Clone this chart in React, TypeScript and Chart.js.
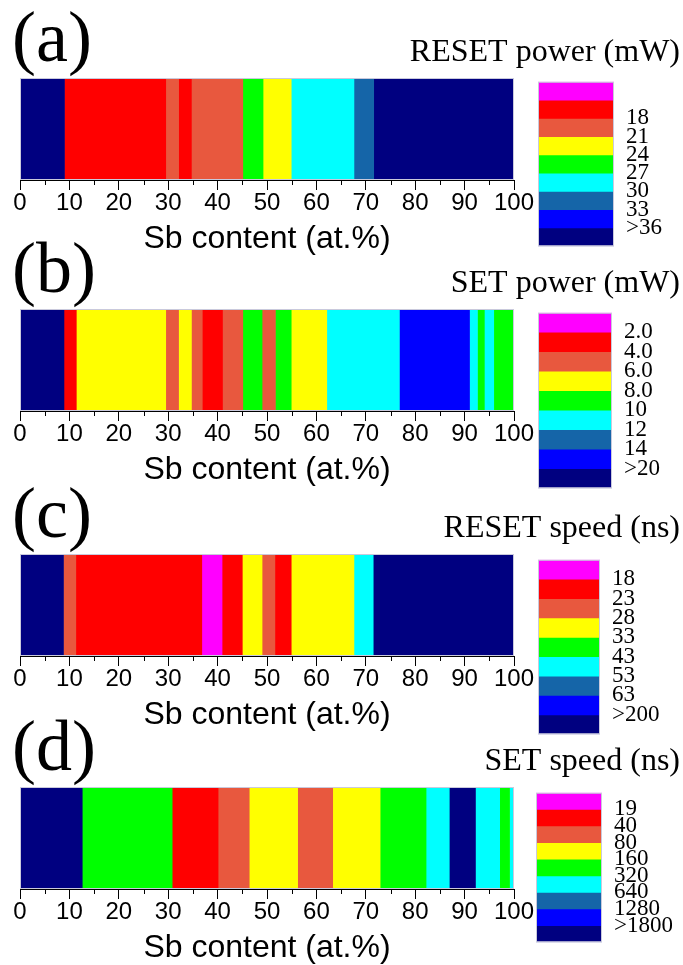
import React, { useEffect, useRef } from 'react';
import { Chart, registerables } from 'chart.js';
Chart.register(...registerables);

// colour scale: index 0 (top of colour bar) .. 8 (bottom)
const palette = ['#FF00FF', '#FF0000', '#E8583E', '#FFFF00', '#00FF00', '#00FFFF', '#1565A8', '#0000FF', '#000080'];

const xTickValues = [0, 10, 20, 30, 40, 50, 60, 70, 80, 90, 100];
const xMinorTickValues = [5, 15, 25, 35, 45, 55, 65, 75, 85, 95];
const xTitle = 'Sb content (at.%)';

// (a) RESET power
const resetPowerEdges = [0, 9.0, 29.5, 32.1, 34.7, 45.1, 49.2, 54.9, 67.6, 71.6, 100];
const resetPowerLevels = [8, 1, 2, 1, 2, 4, 3, 5, 6, 8];
const resetPowerLegend = ['18', '21', '24', '27', '30', '33', '>36'];

// (b) SET power
const setPowerEdges = [0, 8.9, 11.4, 29.5, 32.1, 34.7, 36.9, 41.0, 45.1, 49.0, 51.7, 54.9, 62.1, 76.8, 91.0, 92.6, 94.0, 95.9, 100];
const setPowerLevels = [8, 1, 3, 2, 3, 2, 1, 2, 4, 2, 4, 3, 5, 7, 5, 4, 5, 4];
const setPowerLegend = ['2.0', '4.0', '6.0', '8.0', '10', '12', '14', '>20'];

// (c) RESET speed
const resetSpeedEdges = [0, 8.8, 11.3, 36.8, 40.9, 45.0, 49.0, 51.6, 54.9, 67.6, 71.5, 100];
const resetSpeedLevels = [8, 2, 1, 0, 1, 3, 2, 1, 3, 5, 8];
const resetSpeedLegend = ['18', '23', '28', '33', '43', '53', '63', '>200'];

// (d) SET speed
const setSpeedEdges = [0, 12.6, 30.8, 40.1, 46.4, 56.2, 63.3, 72.9, 82.2, 86.9, 92.2, 97.1, 99.1, 100];
const setSpeedLevels = [8, 4, 1, 2, 3, 2, 3, 4, 5, 8, 5, 4, 5];
const setSpeedLegend = ['19', '40', '80', '160', '320', '640', '1280', '>1800'];

const SANS = '"Liberation Sans", Arial, sans-serif';
const SERIF = '"Liberation Serif", "Times New Roman", serif';

type PanelDef = {
  label: string;
  title: string;
  edges: number[];
  levels: number[];
  legend: string[];
  top: number;
  cb: { l: number; r: number; t: number; b: number };
};

const panels: PanelDef[] = [
  { label: '(a)', title: 'RESET power (mW)', edges: resetPowerEdges, levels: resetPowerLevels, legend: resetPowerLegend, top: 78, cb: { l: 538, r: 614, t: 76, b: 252 } },
  { label: '(b)', title: 'SET power (mW)', edges: setPowerEdges, levels: setPowerLevels, legend: setPowerLegend, top: 309, cb: { l: 538, r: 612, t: 307, b: 494 } },
  { label: '(c)', title: 'RESET speed (ns)', edges: resetSpeedEdges, levels: resetSpeedLevels, legend: resetSpeedLegend, top: 554, cb: { l: 538, r: 600, t: 554, b: 740 } },
  { label: '(d)', title: 'SET speed (ns)', edges: setSpeedEdges, levels: setSpeedLevels, legend: setSpeedLegend, top: 787, cb: { l: 536, r: 602, t: 787, b: 948 } },
];

const W = 683;
const PAD_TOP = 80;
const PLOT_H = 102;
const AXIS_H = 78;
const PLOT_L = 20;
const PLOT_R = 514;

const framePlugin = {
  id: 'frameBox',
  afterDatasetsDraw(chart: any) {
    const { ctx, chartArea: a } = chart;
    ctx.save();
    ctx.strokeStyle = '#c9c9dc';
    ctx.lineWidth = 1;
    ctx.strokeRect(a.left + 0.5, a.top + 0.5, a.right - a.left - 1, a.bottom - a.top - 1);
    ctx.restore();
  },
};

function Strip({ p }: { p: PanelDef }) {
  const ref = useRef<HTMLCanvasElement>(null);
  useEffect(() => {
    const canvas = ref.current!;
    const minorTicks = {
      id: 'minorTicks',
      afterDraw(chart: any) {
        const s = chart.scales.x;
        const ctx = chart.ctx;
        ctx.save();
        ctx.strokeStyle = '#000';
        ctx.lineWidth = 1;
        ctx.beginPath();
        xMinorTickValues.forEach((v) => {
          const x = Math.round(s.getPixelForValue(v)) + 0.5;
          ctx.moveTo(x, s.top);
          ctx.lineTo(x, s.top + 5);
        });
        ctx.stroke();
        ctx.restore();
      },
    };
    const panelText = {
      id: 'panelText',
      afterDraw(chart: any) {
        const ctx = chart.ctx;
        const top = chart.chartArea.top;
        ctx.save();
        ctx.fillStyle = '#000';
        ctx.textBaseline = 'alphabetic';
        ctx.font = `72px ${SERIF}`;
        ctx.textAlign = 'left';
        ctx.fillText(p.label, 12, top - 17);
        ctx.font = `32px ${SERIF}`;
        ctx.textAlign = 'right';
        ctx.fillText(p.title, 680, top - 17);
        ctx.restore();
      },
    };
    const chart = new Chart(canvas, {
      type: 'bar',
      data: {
        labels: [''],
        datasets: p.levels.map((lv, i) => ({
          data: [[p.edges[i], p.edges[i + 1]]] as any,
          backgroundColor: palette[lv],
          borderWidth: 0,
          grouped: false,
          barPercentage: 1,
          categoryPercentage: 1,
        })) as any,
      },
      options: {
        indexAxis: 'y',
        animation: false,
        responsive: false,
        events: [],
        layout: { padding: { left: PLOT_L, right: W - PLOT_R, top: PAD_TOP, bottom: 0 } },
        scales: {
          x: {
            type: 'linear',
            min: 0,
            max: 100,
            afterBuildTicks: (s: any) => {
              s.ticks = xTickValues.map((v) => ({ value: v }));
            },
            afterFit: (s: any) => {
              s.height = AXIS_H;
            },
            ticks: {
              autoSkip: false,
              maxRotation: 0,
              padding: -1,
              color: '#000',
              font: { family: SANS, size: 24 },
              callback: (v: any) => String(v),
            },
            grid: { display: true, drawOnChartArea: false, tickLength: 10, color: '#000', tickColor: '#000', tickWidth: 1 },
            border: { display: true, color: '#000', width: 1 },
            title: { display: true, text: xTitle, color: '#000', font: { family: SANS, size: 32 }, padding: 0 },
          },
          y: { display: false },
        },
        plugins: { legend: { display: false }, tooltip: { enabled: false } },
      } as any,
      plugins: [framePlugin, minorTicks, panelText],
    });
    return () => chart.destroy();
  }, [p]);
  const h = PAD_TOP + PLOT_H + AXIS_H;
  return (
    <canvas
      ref={ref}
      width={W}
      height={h}
      style={{ position: 'absolute', left: 0, top: p.top - PAD_TOP, width: W, height: h }}
    />
  );
}

function ColorBar({ p }: { p: PanelDef }) {
  const ref = useRef<HTMLCanvasElement>(null);
  const PADL = 4;
  const PADV = 12;
  const AXW = 70;
  const w = p.cb.r - p.cb.l + PADL + AXW;
  const h = p.cb.b - p.cb.t + 2 * PADV;
  useEffect(() => {
    const canvas = ref.current!;
    const chart = new Chart(canvas, {
      type: 'bar',
      data: {
        labels: [''],
        datasets: palette.map((c, i) => ({
          data: [[i, i + 1]] as any,
          backgroundColor: c,
          borderWidth: 0,
          grouped: false,
          barPercentage: 1,
          categoryPercentage: 1,
        })) as any,
      },
      options: {
        animation: false,
        responsive: false,
        events: [],
        layout: { padding: { left: PADL, right: 0, top: PADV, bottom: PADV } },
        scales: {
          x: { display: false },
          y: {
            type: 'linear',
            min: 0,
            max: palette.length,
            reverse: true,
            position: 'right',
            afterBuildTicks: (s: any) => {
              s.ticks = p.legend.map((_, i) => ({ value: palette.length - p.legend.length + i }));
            },
            afterFit: (s: any) => {
              s.width = AXW;
            },
            ticks: {
              autoSkip: false,
              padding: 4,
              color: '#000',
              font: { family: SERIF, size: 23 },
              callback: (_v: any, i: number) => p.legend[i],
            },
            grid: { display: false },
            border: { display: false },
          },
        },
        plugins: { legend: { display: false }, tooltip: { enabled: false } },
      } as any,
      plugins: [framePlugin],
    });
    return () => chart.destroy();
  }, [p]);
  return (
    <canvas
      ref={ref}
      width={w}
      height={h}
      style={{ position: 'absolute', left: p.cb.l - PADL, top: p.cb.t - PADV, width: w, height: h }}
    />
  );
}

export default function App() {
  return (
    <div style={{ position: 'absolute', left: 0, top: 0, width: W, height: 965, overflow: 'hidden', background: '#fff' }}>
      {panels.map((p) => (
        <Strip key={'s' + p.label} p={p} />
      ))}
      {panels.map((p) => (
        <ColorBar key={'c' + p.label} p={p} />
      ))}
    </div>
  );
}
